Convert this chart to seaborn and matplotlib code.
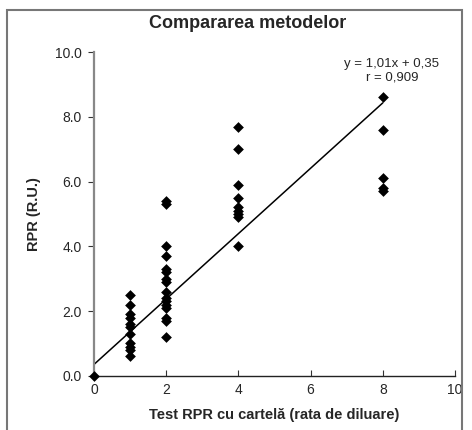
import pandas as pd
import matplotlib.pyplot as plt
import seaborn as sns
from matplotlib.patches import Rectangle

# valori
x_card = [0] + [1] * 11 + [2] * 16 + [4] * 9 + [8] * 5
y_rpr = ([0.0]
         + [2.5, 2.2, 1.9, 1.8, 1.6, 1.5, 1.3, 1.0, 0.9, 0.8, 0.6]
         + [5.4, 5.3, 4.0, 3.7, 3.3, 3.2, 3.0, 2.9, 2.6, 2.4, 2.3, 2.2, 2.1, 1.8, 1.7, 1.2]
         + [7.7, 7.0, 5.9, 5.5, 5.2, 5.1, 5.0, 4.9, 4.0]
         + [8.6, 7.6, 6.1, 5.8, 5.7])
panta = 1.01
intercept = 0.35
x_linie = [0, 8]
xticks = [0, 2, 4, 6, 8, 10]
yticks = [0, 2, 4, 6, 8, 10]

df = pd.DataFrame({'card': x_card, 'rpr': y_rpr})

sns.set_style('white')
plt.rcParams['font.family'] = ['Liberation Sans', 'DejaVu Sans']

fig = plt.figure(figsize=(4.72, 4.30), dpi=100)
ax = fig.add_axes([0.199, 0.126, 0.765, 0.753])

sns.scatterplot(data=df, x='card', y='rpr', marker='D', s=30, color='black',
                edgecolor='black', linewidth=0, ax=ax, clip_on=False, zorder=3)
ax.plot(x_linie, [panta * v + intercept for v in x_linie], color='black', lw=1.1)

ax.set_xlim(0, 10)
ax.set_ylim(0, 10)
ax.set_xticks(xticks)
ax.set_xticklabels([str(t) for t in xticks])
ax.set_yticks(yticks)
ax.set_yticklabels([f'{t:.1f}' for t in yticks])
ax.tick_params(axis='x', direction='in', length=4, labelsize=10, pad=5, color='#333333')
ax.tick_params(axis='y', direction='out', length=4, labelsize=10, pad=5, color='#333333')
ax.tick_params(left=True, bottom=True)

for s in ['top', 'right']:
    ax.spines[s].set_visible(False)
ax.spines['left'].set_color('#888888')
ax.spines['left'].set_linewidth(1.6)
ax.spines['bottom'].set_color('#222222')
ax.spines['bottom'].set_linewidth(1.0)

ax.set_xlabel('Test RPR cu cartelă (rata de diluare)', fontsize=10.5, fontweight='bold', labelpad=8)
ax.set_ylabel('RPR (R.U.)', fontsize=10.5, fontweight='bold', labelpad=10)

fig.text(0.525, 0.965, 'Compararea metodelor', ha='center', va='top', fontsize=13, fontweight='bold')
ax.text(8.25, 9.62, f'y = {panta:.2f}x + {intercept:.2f}'.replace('.', ','),
        ha='center', va='center', fontsize=9.5)
ax.text(8.25, 9.22, 'r = 0,909', ha='center', va='center', fontsize=9.5)

fig.patches.append(Rectangle((0.015, -0.02), 0.964, 0.997, transform=fig.transFigure,
                             fill=False, edgecolor='#777777', lw=1.5))

fig.savefig('out.png', dpi=100)
